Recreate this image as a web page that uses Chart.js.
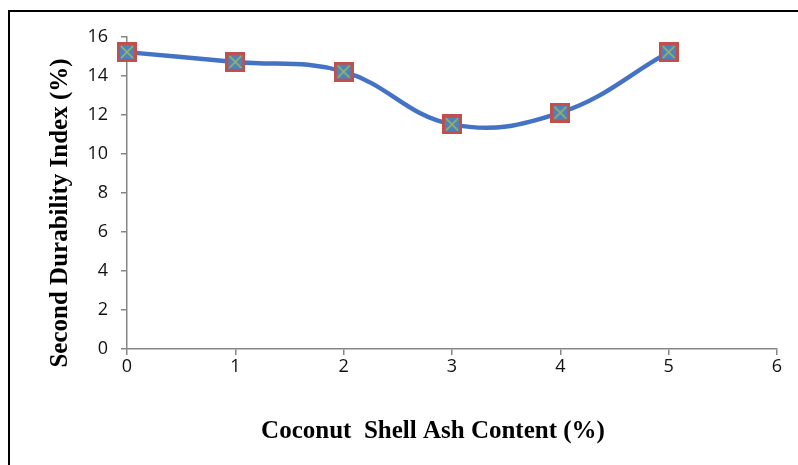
<!DOCTYPE html>
<html>
<head>
<meta charset="utf-8">
<script src="https://cdn.jsdelivr.net/npm/chart.js@4/dist/chart.umd.min.js"></script>
<style>
html,body{margin:0;padding:0;background:#fff;overflow:hidden;}
#wrap{position:relative;width:798px;height:465px;}
#frame{position:absolute;left:8px;top:10px;width:800px;height:470px;border-left:2px solid #000;border-top:2px solid #000;}
canvas{position:absolute;left:0;top:0;}
</style>
</head>
<body>
<div id="wrap">
<div id="frame"></div>
<canvas id="c" width="798" height="465"></canvas>
</div>
<script>
// Data
const ashContent = [0, 1, 2, 3, 4, 5];
const durabilityIndex = [15.2, 14.7, 14.2, 11.5, 12.1, 15.2];
const xTitle = 'Coconut  Shell Ash Content (%)';
const yTitle = 'Second Durability Index (%)';

// Marker: blue square, red border, green cross
const mk = document.createElement('canvas');
mk.width = 20; mk.height = 20;
const g = mk.getContext('2d');
g.fillStyle = '#4F81BD'; g.fillRect(0, 0, 20, 20);
g.strokeStyle = '#C0504D'; g.lineWidth = 3; g.strokeRect(1.5, 1.5, 17, 17);
g.strokeStyle = '#9BBB59'; g.lineWidth = 1.5;
g.beginPath(); g.moveTo(4, 4); g.lineTo(16, 16); g.moveTo(16, 4); g.lineTo(4, 16); g.stroke();

const titleFont = 'bold 25px "Liberation Serif", "Times New Roman", serif';
const titlesPlugin = {
  id: 'axisTitles',
  afterDraw(chart) {
    const ctx = chart.ctx;
    ctx.save();
    ctx.fillStyle = '#000';
    ctx.font = titleFont;
    ctx.textAlign = 'center';
    ctx.textBaseline = 'middle';
    ctx.fillText(xTitle, 433, 432);
    ctx.translate(61, 213);
    ctx.rotate(-Math.PI / 2);
    ctx.fillText(yTitle, 0, 0);
    ctx.restore();
  }
};

const axisColor = '#868686';
const tickFont = {family: '"Open Sans", "Noto Sans", sans-serif', size: 18};

new Chart(document.getElementById('c'), {
  type: 'line',
  data: {
    datasets: [{
      data: ashContent.map((x, i) => ({x: x, y: durabilityIndex[i]})),
      borderColor: '#4472C4',
      borderWidth: 4.5,
      tension: 0.4,
      pointStyle: mk,
      pointRadius: 10,
      pointHoverRadius: 10,
      clip: false,
      fill: false
    }]
  },
  options: {
    responsive: false,
    animation: false,
    devicePixelRatio: 1,
    layout: {padding: {left: 0, top: 36.5, right: 21, bottom: 0}},
    plugins: {legend: {display: false}, tooltip: {enabled: false}},
    scales: {
      x: {
        type: 'linear', min: 0, max: 6,
        ticks: {stepSize: 1, font: tickFont, color: '#111', padding: 1, maxRotation: 0},
        grid: {drawOnChartArea: false, drawTicks: true, tickLength: 6, color: axisColor, lineWidth: 1.5},
        border: {color: axisColor, width: 1.5},
        afterFit(s) { s.height = 116; }
      },
      y: {
        min: 0, max: 16,
        ticks: {stepSize: 2, font: tickFont, color: '#111', padding: 13},
        grid: {drawOnChartArea: false, drawTicks: true, tickLength: 6, color: axisColor, lineWidth: 1.5},
        border: {color: axisColor, width: 1.5},
        afterFit(s) { s.width = 127; }
      }
    }
  },
  plugins: [titlesPlugin]
});
</script>
</body>
</html>
